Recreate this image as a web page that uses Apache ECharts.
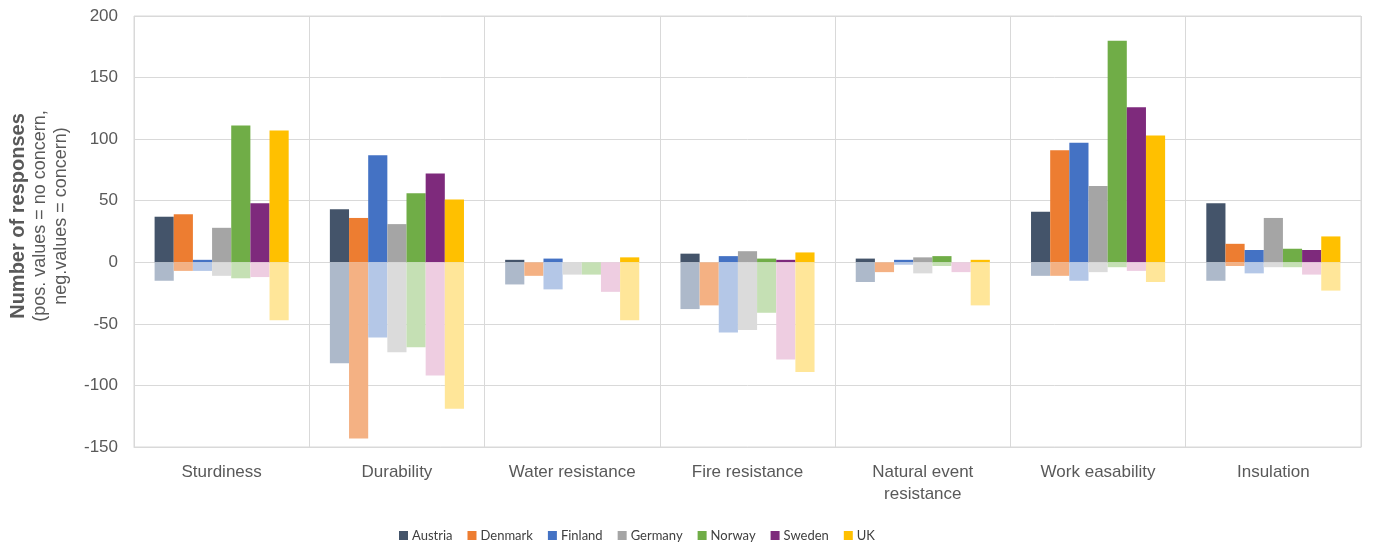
<!DOCTYPE html>
<html>
<head>
<meta charset="utf-8">
<script src="https://cdn.jsdelivr.net/npm/echarts@6/dist/echarts.min.js"></script>
<style>
  html, body { margin: 0; padding: 0; background: #fff; }
  #chart { width: 1377px; height: 543px; }
</style>
</head>
<body>
<div id="chart"></div>
<script>
// Categories of material properties
const categories = ['Sturdiness', 'Durability', 'Water resistance', 'Fire resistance',
  'Natural event\nresistance', 'Work easability', 'Insulation'];
const countries = ['Austria', 'Denmark', 'Finland', 'Germany', 'Norway', 'Sweden', 'UK'];

// Positive responses (no concern), per country, in category order
const austriaPos = [37, 43, 2, 7, 3, 41, 48];
const denmarkPos = [39, 36, 0, 0, 0, 91, 15];
const finlandPos = [2, 87, 3, 5, 2, 97, 10];
const germanyPos = [28, 31, 0, 9, 4, 62, 36];
const norwayPos  = [111, 56, 0, 3, 5, 180, 11];
const swedenPos  = [48, 72, 0, 2, 0, 126, 10];
const ukPos      = [107, 51, 4, 8, 2, 103, 21];

// Negative responses (concern), per country, in category order
const austriaNeg = [-15, -82, -18, -38, -16, -11, -15];
const denmarkNeg = [-7, -143, -11, -35, -8, -11, -3];
const finlandNeg = [-7, -61, -22, -57, -2, -15, -9];
const germanyNeg = [-11, -73, -10, -55, -9, -8, -4];
const norwayNeg  = [-13, -69, -10, -41, -3, -4, -4];
const swedenNeg  = [-12, -92, -24, -79, -8, -7, -10];
const ukNeg      = [-47, -119, -47, -89, -35, -16, -23];

// Y axis ticks
const yMin = -150, yMax = 200, yStep = 50;

const posData = [austriaPos, denmarkPos, finlandPos, germanyPos, norwayPos, swedenPos, ukPos];
const negData = [austriaNeg, denmarkNeg, finlandNeg, germanyNeg, norwayNeg, swedenNeg, ukNeg];

const strongColors = ['#44546A', '#ED7D31', '#4472C4', '#A5A5A5', '#70AD47', '#7E2A7C', '#FFC000'];
const lightColors  = ['#ADB9CA', '#F4B183', '#B4C7E7', '#DBDBDB', '#C5E0B4', '#EECDE1', '#FFE699'];

// Each country is one stack: solid bar above zero, pale bar below zero
const series = [];
countries.forEach((c, i) => {
  series.push({
    name: c,
    type: 'bar',
    stack: 'country' + i,
    data: posData[i],
    itemStyle: { color: strongColors[i] },
    barGap: '0%',
    barCategoryGap: '23.5%'
  });
  series.push({
    name: c + ' ',
    type: 'bar',
    stack: 'country' + i,
    data: negData[i],
    itemStyle: { color: lightColors[i] },
    barGap: '0%',
    barCategoryGap: '23.5%'
  });
});

const chart = echarts.init(document.getElementById('chart'), null, { renderer: 'canvas' });
chart.setOption({
  animation: false,
  backgroundColor: '#ffffff',
  textStyle: { fontFamily: 'Liberation Sans' },
  grid: {
    left: 134, right: 16, top: 16, bottom: 96,
    show: true, borderColor: '#D9D9D9', borderWidth: 1
  },
  legend: {
    data: countries,
    left: 394,
    top: 524,
    itemWidth: 9,
    itemHeight: 9,
    itemGap: 15,
    icon: 'rect',
    textStyle: {
      fontFamily: 'Lato',
      fontSize: 13,
      color: '#404040',
      padding: [0, 0, 0, -1]
    }
  },
  xAxis: {
    type: 'category',
    data: categories,
    position: 'bottom',
    axisLine: { show: true, onZero: false, lineStyle: { color: '#D9D9D9' } },
    axisTick: { show: false },
    splitLine: { show: true, lineStyle: { color: '#D9D9D9', width: 1 } },
    axisLabel: { color: '#595959', fontSize: 17, margin: 14, lineHeight: 22, interval: 0 }
  },
  yAxis: {
    type: 'value',
    min: yMin,
    max: yMax,
    interval: yStep,
    axisLine: { show: false },
    axisTick: { show: false },
    splitLine: { show: true, lineStyle: { color: '#D9D9D9', width: 1 } },
    axisLabel: { color: '#595959', fontSize: 17, margin: 16 }
  },
  graphic: [{
    type: 'text',
    x: 39.5,
    y: 216,
    rotation: Math.PI / 2,
    style: {
      text: '{b|Number of responses}\n{r|(pos. values = no concern,}\n{r|neg.values = concern)}',
      align: 'center',
      verticalAlign: 'middle',
      fill: '#595959',
      rich: {
        b: { fontFamily: 'Liberation Sans', fontSize: 20, fontWeight: 'bold', lineHeight: 22, fill: '#595959', align: 'center' },
        r: { fontFamily: 'Liberation Sans', fontSize: 18, lineHeight: 21, fill: '#595959', align: 'center' }
      }
    }
  }],
  series: series
});
</script>
</body>
</html>
